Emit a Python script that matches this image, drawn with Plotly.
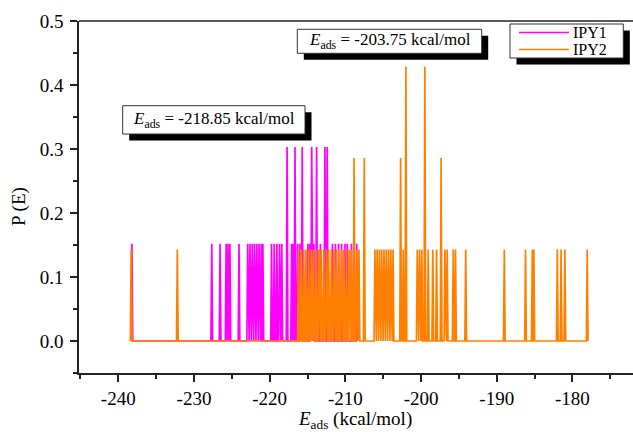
import plotly.graph_objects as go

# Adsorption-energy distributions P(E) for the two inhibitors
ipy1_energy = [-238.2, -227.65, -226.55, -225.75, -225.5, -225.25, -224.05,
               -222.9, -222.6, -222.3, -222.0, -221.7, -221.4, -221.1, -220.9,
               -219.75, -219.4, -219.05, -218.7, -218.4, -217.7, -217.1, -216.9,
               -216.65, -216.3, -216.0, -215.7, -214.95, -214.7, -214.45, -214.15,
               -213.8, -213.3, -212.7, -212.4, -211.7, -211.3, -210.9, -210.5,
               -210.05, -209.75, -209.2, -208.5]
ipy1_prob = [0.152, 0.152, 0.152, 0.152, 0.152, 0.152, 0.152,
             0.152, 0.152, 0.152, 0.152, 0.152, 0.152, 0.152, 0.152,
             0.152, 0.152, 0.152, 0.152, 0.152, 0.303, 0.152, 0.152,
             0.303, 0.152, 0.152, 0.303, 0.152, 0.152, 0.303, 0.152,
             0.303, 0.152, 0.303, 0.303, 0.152, 0.152, 0.152, 0.152,
             0.152, 0.152, 0.152, 0.152]

ipy2_energy = [-238.3, -232.2,
               -216.2, -215.85, -215.5, -215.2, -214.85, -214.5, -214.2, -213.85,
               -213.5, -213.2, -212.85, -212.5, -212.2, -211.85, -211.5, -211.2,
               -210.85, -210.5, -210.2, -209.85, -209.5, -209.2, -208.85, -208.5,
               -208.2, -207.5,
               -206.1, -205.8, -205.5, -205.2, -204.9, -204.6, -204.3, -204.0, -203.7,
               -202.7, -202.35, -202.0, -200.5, -200.2, -199.9, -199.5, -199.05,
               -198.45, -197.95, -197.35, -196.85, -196.55, -195.75, -195.45,
               -194.1, -189.0, -186.2, -185.3, -185.1, -182.0, -181.5, -181.0, -178.05]
ipy2_prob = [0.143, 0.143,
             0.143, 0.143, 0.143, 0.143, 0.143, 0.143, 0.143, 0.143,
             0.143, 0.143, 0.143, 0.143, 0.143, 0.143, 0.143, 0.143,
             0.143, 0.143, 0.143, 0.143, 0.143, 0.143, 0.286, 0.143,
             0.143, 0.286,
             0.143, 0.143, 0.143, 0.143, 0.143, 0.143, 0.143, 0.143, 0.143,
             0.286, 0.143, 0.429, 0.143, 0.143, 0.143, 0.429, 0.143,
             0.143, 0.143, 0.286, 0.143, 0.143, 0.143, 0.143,
             0.143, 0.143, 0.143, 0.143, 0.143, 0.143, 0.143, 0.143, 0.143]

series_names = ["IPY1", "IPY2"]
series_colors = ["#ff00ff", "#ff8000"]
eads_labels = ["-218.85 kcal/mol", "-203.75 kcal/mol"]

x_tick_vals = [-240, -230, -220, -210, -200, -190, -180]
x_tick_text = ["-240", "-230", "-220", "-210", "-200", "-190", "-180"]
y_tick_vals = [0.0, 0.1, 0.2, 0.3, 0.4, 0.5]
y_tick_text = ["0.0", "0.1", "0.2", "0.3", "0.4", "0.5"]

FONT = "Liberation Serif, Times New Roman, serif"
W, H = 633, 432
ML, MR, MT, MB = 79, 0, 21, 59
AXIS_COLOR = "#222222"


def spike_coords(energies, probs, half_width=0.11):
    """Each energy bin is drawn as a narrow spike rising from the baseline."""
    xs, ys = [], []
    for e, p in sorted(zip(energies, probs)):
        xs += [e - half_width, e, e + half_width]
        ys += [0.0, p, 0.0]
    return xs, ys


def px(x):
    return (x - ML) / (W - ML - MR)


def py(y):
    return (H - MB - y) / (H - MT - MB)


fig = go.Figure()
for name, color, (e, p) in zip(series_names, series_colors,
                               [(ipy1_energy, ipy1_prob), (ipy2_energy, ipy2_prob)]):
    xs, ys = spike_coords(e, p)
    fig.add_trace(go.Scatter(x=xs, y=ys, mode="lines", name=name,
                             line=dict(color=color, width=1.7), showlegend=False))

shapes = []
annotations = []


def shadow_box(x0, y0, x1, y1, off=6.5):
    shapes.append(dict(type="rect", xref="paper", yref="paper",
                       x0=px(x0 + off), x1=px(x1 + off), y0=py(y1 + off), y1=py(y0 + off),
                       fillcolor="black", line=dict(width=0), layer="above"))
    shapes.append(dict(type="rect", xref="paper", yref="paper",
                       x0=px(x0), x1=px(x1), y0=py(y1), y1=py(y0),
                       fillcolor="white", line=dict(color="#333333", width=1), layer="above"))


# Energy labels in boxed callouts
for label, (bx0, by0, bx1, by1) in zip(eads_labels, [(122.7, 105.7, 305, 134),
                                                     (297.3, 29.3, 481.7, 53.3)]):
    shadow_box(bx0, by0, bx1, by1)
    annotations.append(dict(xref="paper", yref="paper", x=px((bx0 + bx1) / 2),
                            y=py((by0 + by1) / 2), xanchor="center", yanchor="middle",
                            text=f"<i>E</i><sub>ads</sub> = {label}", showarrow=False,
                            font=dict(family=FONT, size=17, color="black")))

# Legend box
shadow_box(510, 24, 623.3, 58)
for i, (name, color) in enumerate(zip(series_names, series_colors)):
    yy = 32.5 + 17 * i
    shapes.append(dict(type="line", xref="paper", yref="paper",
                       x0=px(519), x1=px(569), y0=py(yy), y1=py(yy),
                       line=dict(color=color, width=1.7), layer="above"))
    annotations.append(dict(xref="paper", yref="paper", x=px(572), y=py(yy),
                            xanchor="left", yanchor="middle", text=name, showarrow=False,
                            borderpad=0,
                            font=dict(family=FONT, size=16, color="black")))

# Top frame line
shapes.append(dict(type="line", xref="paper", yref="paper", x0=0, x1=1, y0=1, y1=1,
                   line=dict(color=AXIS_COLOR, width=1.5), layer="above"))

# Axis titles
annotations.append(dict(xref="paper", yref="paper", x=px(355), y=py(419.5),
                        xanchor="center", yanchor="middle",
                        text="<i>E</i><sub>ads</sub> (kcal/mol)", showarrow=False,
                        borderpad=0,
                        font=dict(family=FONT, size=19, color="black")))
annotations.append(dict(xref="paper", yref="paper", x=px(19), y=py(207),
                        xanchor="center", yanchor="middle", textangle=-90,
                        text="P (E)", showarrow=False,
                        font=dict(family=FONT, size=19, color="black")))

axis_common = dict(ticks="outside", ticklen=7, tickwidth=1.5, tickcolor=AXIS_COLOR,
                   showline=True, linecolor=AXIS_COLOR, linewidth=1.5,
                   showgrid=False, zeroline=False,
                   tickfont=dict(family=FONT, size=19, color="black"))

fig.update_layout(
    width=W, height=H,
    margin=dict(l=ML, r=MR, t=MT, b=MB, pad=0),
    paper_bgcolor="white", plot_bgcolor="white",
    shapes=shapes, annotations=annotations, showlegend=False,
    xaxis=dict(range=[-245.19, -172.0], tickvals=x_tick_vals, ticktext=x_tick_text,
               minor=dict(ticks="outside", ticklen=4, tickwidth=1.5,
                          tickcolor=AXIS_COLOR, dtick=5, tick0=-240),
               **axis_common),
    yaxis=dict(range=[-0.05, 0.5001], tickvals=y_tick_vals, ticktext=y_tick_text,
               ticklabelstandoff=3,
               minor=dict(ticks="outside", ticklen=4, tickwidth=1.5,
                          tickcolor=AXIS_COLOR, dtick=0.05, tick0=0),
               **axis_common),
)

fig.write_html("out.html")
